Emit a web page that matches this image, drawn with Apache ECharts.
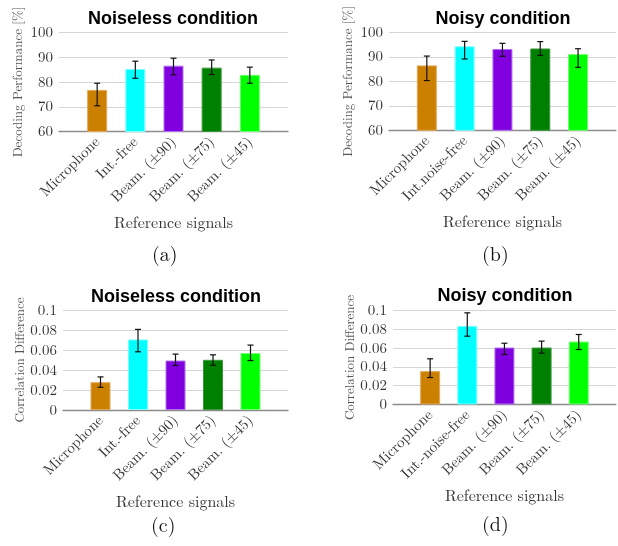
<!DOCTYPE html>
<html><head><meta charset="utf-8">
<script src="https://cdn.jsdelivr.net/npm/echarts@6/dist/echarts.min.js"></script>
<style>html,body{margin:0;padding:0;background:#fff}#c{width:618px;height:546px}</style>
</head><body><div id="c"></div>
<script>
const catA = ['Microphone', 'Int.-free', 'Beam. (\u00b190)', 'Beam. (\u00b175)', 'Beam. (\u00b145)'];
const catB = ['Microphone', 'Int.noise-free', 'Beam. (\u00b190)', 'Beam. (\u00b175)', 'Beam. (\u00b145)'];
const catC = ['Microphone', 'Int.-free', 'Beam. (\u00b190)', 'Beam. (\u00b175)', 'Beam. (\u00b145)'];
const catD = ['Microphone', 'Int.-noise-free', 'Beam. (\u00b190)', 'Beam. (\u00b175)', 'Beam. (\u00b145)'];

const perfNoiseless     = [76.8, 85.3, 86.6, 85.8, 82.9];
const perfNoiselessLow  = [70.4, 81.5, 82.9, 83.0, 79.5];
const perfNoiselessHigh = [79.5, 88.4, 89.6, 88.9, 86.0];

const perfNoisy     = [86.5, 94.3, 93.2, 93.4, 91.1];
const perfNoisyLow  = [80.3, 89.1, 90.2, 90.6, 85.7];
const perfNoisyHigh = [90.3, 96.3, 95.5, 96.2, 93.3];

const corrNoiseless     = [0.0278, 0.0706, 0.0495, 0.0502, 0.0569];
const corrNoiselessLow  = [0.0227, 0.0582, 0.0445, 0.0448, 0.0495];
const corrNoiselessHigh = [0.0331, 0.0806, 0.0559, 0.0552, 0.0649];

const corrNoisy     = [0.0355, 0.0837, 0.0606, 0.0606, 0.0670];
const corrNoisyLow  = [0.0287, 0.0727, 0.0532, 0.0546, 0.0585];
const corrNoisyHigh = [0.0486, 0.0975, 0.0652, 0.0674, 0.0745];

const perfTicks = [60, 100, 10];
const corrTicks = [0, 0.1, 0.02];

const barColors  = ['#cc8000', '#00ffff', '#8000e0', '#008000', '#00ff00'];
const edgeColors = ['#e3a858', '#80ffff', '#b070f0', '#3a9a3a', '#70ff70'];

const SERIF = '"Latin Modern Roman","CMU Serif","Liberation Serif","DejaVu Serif",serif';
const SANS = '"Liberation Sans",Arial,"Helvetica",sans-serif';

const panels = [
  {cat: catA, v: perfNoiseless, lo: perfNoiselessLow, hi: perfNoiselessHigh, t: perfTicks,
   grid: {left: 59, top: 32.5, width: 229, height: 99}, title: 'Noiseless condition', tx: 173, ty: 10,
   yname: 'Decoding Performance [%]', cap: '(a)', cx: 165, cy: 257},
  {cat: catB, v: perfNoisy, lo: perfNoisyLow, hi: perfNoisyHigh, t: perfTicks,
   grid: {left: 389, top: 32.3, width: 228, height: 98}, title: 'Noisy condition', tx: 503, ty: 10,
   yname: 'Decoding Performance [%]', cap: '(b)', cx: 495, cy: 257},
  {cat: catC, v: corrNoiseless, lo: corrNoiselessLow, hi: corrNoiselessHigh, t: corrTicks,
   grid: {left: 63, top: 310, width: 225, height: 100}, title: 'Noiseless condition', tx: 176, ty: 288,
   yname: 'Correlation Difference', cap: '(c)', cx: 164, cy: 528},
  {cat: catD, v: corrNoisy, lo: corrNoisyLow, hi: corrNoisyHigh, t: corrTicks,
   grid: {left: 393, top: 310.5, width: 224, height: 94}, title: 'Noisy condition', tx: 505, ty: 287,
   yname: 'Correlation Difference', cap: '(d)', cx: 495, cy: 527}
];

const option = {
  animation: false,
  backgroundColor: '#fff',
  title: panels.map(p => ({
    text: p.title, left: p.tx, top: p.ty, textAlign: 'center', padding: 0,
    textStyle: {fontFamily: SANS, fontWeight: 'bold', fontSize: 18, color: '#000'}
  })),
  grid: panels.map(p => Object.assign({containLabel: false}, p.grid)),
  xAxis: panels.map((p, i) => ({
    type: 'value', gridIndex: i, min: -1, max: 5, interval: 1,
    name: 'Reference signals', nameLocation: 'middle', nameGap: 84,
    nameTextStyle: {fontFamily: SERIF, fontSize: 16, color: '#333'},
    axisLine: {show: true, lineStyle: {color: '#8c8c8c', width: 1.3}},
    axisTick: {show: false},
    splitLine: {show: false},
    axisLabel: {
      rotate: 45, margin: 8, fontFamily: SERIF, fontSize: 15, color: '#333',
      showMinLabel: true, showMaxLabel: true,
      formatter: v => (v >= 0 && v < p.cat.length && Number.isInteger(v)) ? p.cat[v] : ''
    }
  })),
  yAxis: panels.map((p, i) => ({
    type: 'value', gridIndex: i, min: p.t[0], max: p.t[1], interval: p.t[2],
    name: p.yname, nameLocation: 'middle', nameGap: 34,
    nameTextStyle: {fontFamily: SERIF, fontSize: 13, color: '#555'},
    axisLine: {show: false}, axisTick: {show: false},
    splitLine: {show: true, lineStyle: {color: '#d6d6d6', width: 1}},
    axisLabel: {fontFamily: SERIF, fontSize: 15, color: '#333', margin: 6}
  })),
  series: []
};

panels.forEach((p, i) => {
  option.series.push({
    type: 'bar', xAxisIndex: i, yAxisIndex: i, barWidth: 20,
    data: p.v.map((val, k) => ({
      value: [k, val],
      itemStyle: {color: barColors[k], borderColor: edgeColors[k], borderWidth: 1}
    }))
  });
  option.series.push({
    type: 'custom', xAxisIndex: i, yAxisIndex: i, z: 10,
    data: p.v.map((val, k) => [k, p.lo[k], p.hi[k]]),
    renderItem: (params, api) => {
      const x = api.value(0);
      const a = api.coord([x, api.value(1)]);
      const b = api.coord([x, api.value(2)]);
      const hw = 3;
      const st = {stroke: '#111', lineWidth: 1.2};
      return {type: 'group', children: [
        {type: 'line', shape: {x1: a[0], y1: a[1], x2: b[0], y2: b[1]}, style: st},
        {type: 'line', shape: {x1: a[0]-hw, y1: a[1], x2: a[0]+hw, y2: a[1]}, style: st},
        {type: 'line', shape: {x1: b[0]-hw, y1: b[1], x2: b[0]+hw, y2: b[1]}, style: st}
      ]};
    }
  });
});

option.graphic = panels.map(p => ({
  type: 'text', left: p.cx - 13, top: p.cy - 12,
  style: {text: p.cap, font: '20px ' + SERIF, fill: '#111'}
}));

const chart = echarts.init(document.getElementById('c'), null, {renderer: 'canvas'});
chart.setOption(option);
</script></body></html>
